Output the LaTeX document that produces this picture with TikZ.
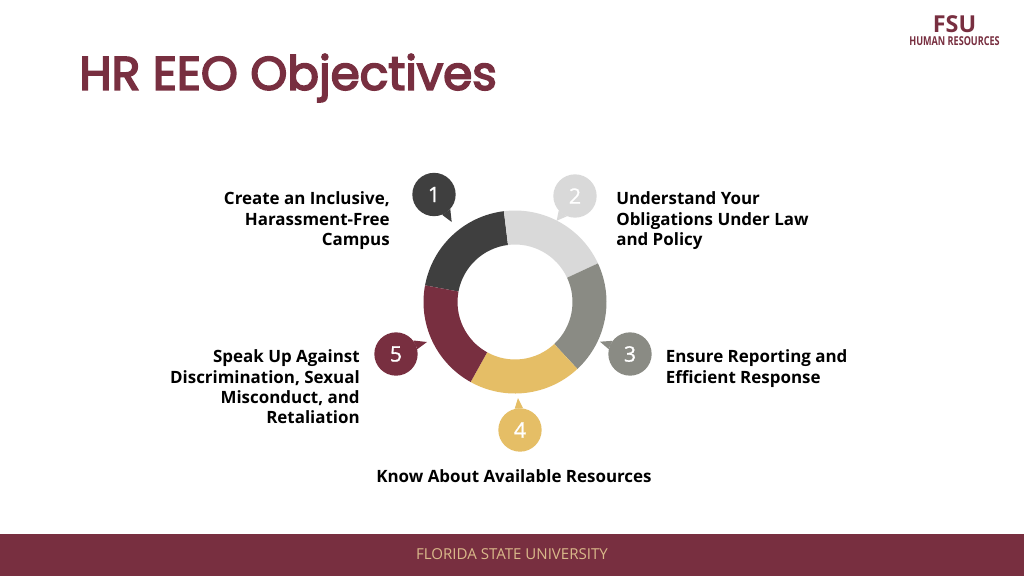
\documentclass[tikz,border=0pt]{standalone}
\usepackage{fontspec}
\setmainfont{Open Sans}
\newfontfamily\titlefont{Poppins}
\newfontfamily\logofont[FakeStretch=0.74]{Open Sans}
\newcommand{\strk}[2]{\special{pdf:code 2 Tr #1 w}#2\special{pdf:code 0 Tr 1 w}}
\definecolor{maroon}{HTML}{782F40}
\definecolor{darkseg}{HTML}{3F3F3F}
\definecolor{lightseg}{HTML}{D9D9D9}
\definecolor{midseg}{HTML}{8A8B84}
\definecolor{goldseg}{HTML}{E5BE66}
\definecolor{foottext}{HTML}{D9B98A}
\tikzset{
  px/.style={x=0.75pt,y=-0.75pt},
  bubble/.style={circle,minimum size=32.5pt,inner sep=0pt,text=white,font=\fontsize{16}{18}\selectfont},
  lbl/.style={inner sep=0pt,font=\bfseries\fontsize{12.7}{15.3}\selectfont,text=black},
  lblL/.style={lbl,align=right,anchor=north east},
  lblR/.style={lbl,align=left,anchor=north west}
}
\newcommand{\ringseg}[3]{\fill[#3] ([shift={(#1:91.5)}]515,302) arc[start angle=#1,end angle=#2,x radius=68.6pt,y radius=-68.6pt] -- ([shift={(#2:57.5)}]515,302) arc[start angle=#2,end angle=#1,x radius=43.1pt,y radius=-43.1pt] -- cycle;}
\begin{document}
\begin{tikzpicture}[px]
\useasboundingbox (0,0) rectangle (1024,576);
\fill[white] (0,0) rectangle (1024,576);
\fill[maroon] (0,534) rectangle (1024,576);
\node[inner sep=0pt,text=foottext,font=\fontsize{11.3}{13}\selectfont] (foot) at (512,554) {FLORIDA STATE UNIVERSITY};
\node[inner sep=0pt,anchor=west,text=maroon,font=\titlefont\fontsize{35.2}{40}\selectfont] (title) at (79,78) {\strk{1.3}{HR EEO Objectives}};
\node[inner sep=0pt,text=maroon,font=\bfseries\fontsize{17.5}{19}\selectfont] (fsu) at (954.5,24.5) {FSU};
\node[inner sep=0pt,text=maroon,font=\logofont\bfseries\fontsize{9.2}{10}\selectfont] (hr) at (954.5,41.5) {HUMAN RESOURCES};
% ring (angles measured with y pointing down, so negated)
\ringseg{-97}{-169.5}{darkseg}
\ringseg{-25}{-97}{lightseg}
\ringseg{47}{-25}{midseg}
\ringseg{119}{47}{goldseg}
\ringseg{190.5}{119}{maroon}
% bubbles
\node[bubble,fill=darkseg] (b1) at (434,194.5) {\strk{0.15}{1}};
\node[bubble,fill=lightseg] (b2) at (575,196) {\strk{0.15}{2}};
\node[bubble,fill=midseg] (b3) at (630,354) {\strk{0.15}{3}};
\node[bubble,fill=goldseg] (b4) at (520,430) {\strk{0.15}{4}};
\node[bubble,fill=maroon] (b5) at (396,354) {\strk{0.15}{5}};
\coordinate (t1) at (451.7,222);
\coordinate (t2) at (556.7,220.7);
\coordinate (t3) at (600,341.7);
\coordinate (t4) at (518,398);
\coordinate (t5) at (427,342);
\fill[darkseg] (b1.-42) -- (t1) -- (b1.-68) -- cycle;
\fill[lightseg] (b2.222) -- (t2) -- (b2.248) -- cycle;
\fill[midseg] (b3.143) -- (t3) -- (b3.167) -- cycle;
\fill[goldseg] (b4.82) -- (t4) -- (b4.104) -- cycle;
\fill[maroon] (b5.13) -- (t5) -- (b5.38) -- cycle;
% labels
\node[lblL] (l1) at (390,191.5) {Create an Inclusive,\\Harassment-Free\\Campus};
\node[lblR] (l2) at (616,191.5) {Understand Your\\Obligations Under Law\\and Policy};
\node[lblR] (l3) at (665.5,349.5) {Ensure Reporting and\\Efficient Response};
\node[lblL] (l5) at (360,349.5) {Speak Up Against\\Discrimination, Sexual\\Misconduct, and\\Retaliation};
\node[lbl] (l4) at (514,476) {Know About Available Resources};
\end{tikzpicture}
\end{document}
